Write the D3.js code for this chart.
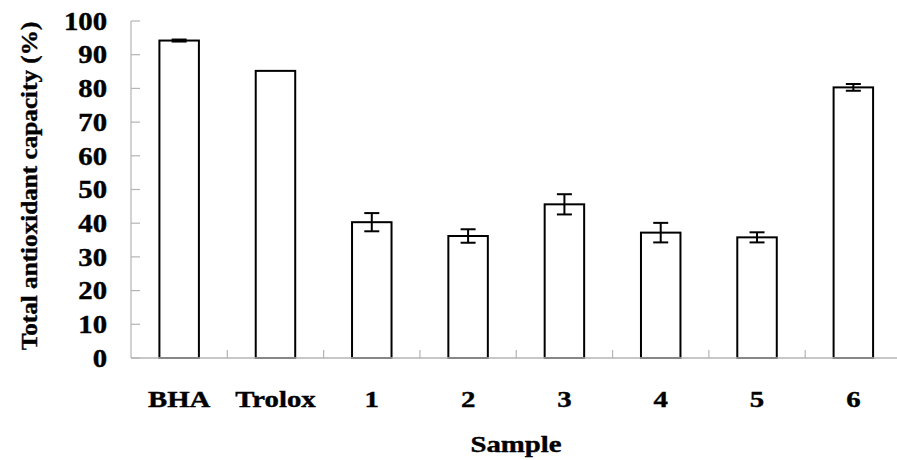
<!DOCTYPE html>
<html>
<head>
<meta charset="utf-8">
<script src="https://cdn.jsdelivr.net/npm/d3@7"></script>
<style>
  body { margin: 0; background: #fff; }
  svg { display: block; }
  text { font-family: "Liberation Serif", "Times New Roman", serif; font-weight: bold; fill: #000; stroke: #000; stroke-width: 0.4px; }
</style>
</head>
<body>
<svg width="897" height="460"></svg>
<script>
// data
var categories = ["BHA", "Trolox", "1", "2", "3", "4", "5", "6"];
var capacity   = [94.2, 85.2, 40.3, 36.2, 45.6, 37.2, 35.8, 80.3];
var errors     = [0.3, 0, 2.7, 2.0, 3.0, 2.9, 1.5, 1.0];
var yTicks     = [0, 10, 20, 30, 40, 50, 60, 70, 80, 90, 100];

var svg = d3.select("svg"),
    width = +svg.attr("width"),
    height = +svg.attr("height");

var plotLeft = 131, plotRight = 901.5, plotTop = 21, plotBottom = 358;

var x = d3.scaleBand()
    .domain(categories)
    .range([plotLeft, plotRight])
    .paddingInner(0)
    .paddingOuter(0);

var y = d3.scaleLinear()
    .domain([0, 100])
    .range([plotBottom, plotTop]);

var barW = x.bandwidth() * 0.41;
var axisColor = "#b4b4b4";

// y axis line + inward ticks
svg.append("line")
    .attr("x1", plotLeft).attr("x2", plotLeft)
    .attr("y1", y(100)).attr("y2", y(0))
    .attr("stroke", axisColor).attr("stroke-width", 1.2);

svg.append("g").selectAll("line")
    .data(yTicks)
    .enter().append("line")
    .attr("x1", plotLeft).attr("x2", plotLeft + 9)
    .attr("y1", function(d) { return y(d); })
    .attr("y2", function(d) { return y(d); })
    .attr("stroke", axisColor).attr("stroke-width", 1.2);

svg.append("g").selectAll("text")
    .data(yTicks)
    .enter().append("text")
    .attr("transform", function(d) { return "translate(107," + y(d) + ") scale(1.15,1)"; })
    .attr("text-anchor", "end")
    .attr("dy", "0.35em")
    .style("font-size", "25px")
    .text(function(d) { return d; });

// bars
svg.append("g").selectAll("rect")
    .data(categories)
    .enter().append("rect")
    .attr("x", function(d) { return x(d) + (x.bandwidth() - barW) / 2; })
    .attr("y", function(d, i) { return y(capacity[i]); })
    .attr("width", barW)
    .attr("height", function(d, i) { return y(0) - y(capacity[i]); })
    .attr("fill", "#fff")
    .attr("stroke", "#000")
    .attr("stroke-width", 2);

// error bars
function idx(d) { return categories.indexOf(d); }
function cx(d) { return x(d) + x.bandwidth() / 2; }

var err = svg.append("g")
    .selectAll("g")
    .data(categories.filter(function(d, i) { return errors[i] > 0; }))
    .enter().append("g")
    .attr("stroke", "#000")
    .attr("stroke-width", 2);

err.append("line")
    .attr("x1", cx).attr("x2", cx)
    .attr("y1", function(d) { return y(capacity[idx(d)] + errors[idx(d)]); })
    .attr("y2", function(d) { return y(capacity[idx(d)] - errors[idx(d)]); });
err.append("line")
    .attr("x1", function(d) { return cx(d) - 7.5; })
    .attr("x2", function(d) { return cx(d) + 7.5; })
    .attr("y1", function(d) { return y(capacity[idx(d)] + errors[idx(d)]); })
    .attr("y2", function(d) { return y(capacity[idx(d)] + errors[idx(d)]); });
err.append("line")
    .attr("x1", function(d) { return cx(d) - 7.5; })
    .attr("x2", function(d) { return cx(d) + 7.5; })
    .attr("y1", function(d) { return y(capacity[idx(d)] - errors[idx(d)]); })
    .attr("y2", function(d) { return y(capacity[idx(d)] - errors[idx(d)]); });

// x axis line + inward ticks between categories
svg.append("line")
    .attr("x1", plotLeft).attr("x2", width)
    .attr("y1", plotBottom).attr("y2", plotBottom)
    .attr("stroke", axisColor).attr("stroke-width", 1.5);

svg.append("g").selectAll("line")
    .data(categories.slice(1))
    .enter().append("line")
    .attr("x1", function(d) { return x(d); })
    .attr("x2", function(d) { return x(d); })
    .attr("y1", plotBottom).attr("y2", plotBottom - 8)
    .attr("stroke", axisColor).attr("stroke-width", 1.2);

svg.append("g").selectAll("text")
    .data(categories)
    .enter().append("text")
    .attr("transform", function(d) { return "translate(" + cx(d) + ",407) scale(1.2,1)"; })
    .attr("text-anchor", "middle")
    .style("font-size", "24px")
    .text(function(d) { return d; });

// axis titles
svg.append("text")
    .attr("transform", "translate(516,452) scale(1.2,1)")
    .attr("text-anchor", "middle")
    .style("font-size", "24px")
    .text("Sample");

svg.append("text")
    .attr("transform", "translate(37,186) rotate(-90) scale(1.05,1)")
    .attr("text-anchor", "middle")
    .style("font-size", "24px")
    .text("Total antioxidant capacity (%)");
</script>
</body>
</html>
